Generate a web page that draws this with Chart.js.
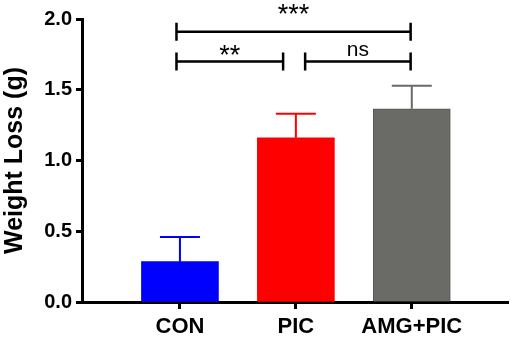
<!DOCTYPE html>
<html>
<head>
<meta charset="utf-8">
<script src="https://cdn.jsdelivr.net/npm/chart.js@4/dist/chart.umd.min.js"></script>
<style>
  html, body { margin: 0; padding: 0; background: #fff; }
  #wrap { width: 511px; height: 338px; }
</style>
</head>
<body>
<div id="wrap"><canvas id="graficoPeso"></canvas></div>
<script>
// dados
const categorias = ["CON", "PIC", "AMG+PIC"];
const medias = [0.285, 1.16, 1.365];
const erros = [0.175, 0.17, 0.163];
const yTicks = [0, 0.5, 1.0, 1.5, 2.0];

// comparações (posições em unidades da categoria, altura em g)
const sigInicio = [0.97, 0.97, 2.08];
const sigFim = [2.99, 1.89, 2.99];
const sigAltura = [1.91, 1.70, 1.70];
const sigTexto = ["***", "**", "ns"];

const cores = ["#0000ff", "#ff0000", "#6a6b66"];
const coresErro = ["#0000ff", "#ff0000", "#6a6b66"];

const errorBars = {
    id: "errorBars",
    afterDatasetsDraw(chart) {
        const ctx = chart.ctx;
        const y = chart.scales.y;
        const meta = chart.getDatasetMeta(0);
        meta.data.forEach((bar, i) => {
            const top = y.getPixelForValue(medias[i] + erros[i]);
            ctx.save();
            ctx.strokeStyle = coresErro[i];
            ctx.lineWidth = 2;
            ctx.beginPath();
            ctx.moveTo(bar.x, bar.y);
            ctx.lineTo(bar.x, top);
            ctx.moveTo(bar.x - 20, top);
            ctx.lineTo(bar.x + 20, top);
            ctx.stroke();
            ctx.restore();
        });
    }
};

const significancia = {
    id: "significancia",
    afterDraw(chart) {
        const ctx = chart.ctx;
        const x = chart.scales.x;
        const y = chart.scales.y;
        const folga = [18, 6, 5];
        ctx.save();
        ctx.strokeStyle = "#000";
        ctx.fillStyle = "#000";
        ctx.lineWidth = 2.5;
        sigTexto.forEach((txt, i) => {
            const x1 = x.getPixelForValue(sigInicio[i]);
            const x2 = x.getPixelForValue(sigFim[i]);
            const yy = y.getPixelForValue(sigAltura[i]);
            ctx.beginPath();
            ctx.moveTo(x1, yy);
            ctx.lineTo(x2, yy);
            ctx.moveTo(x1, yy - 9);
            ctx.lineTo(x1, yy + 9);
            ctx.moveTo(x2, yy - 9);
            ctx.lineTo(x2, yy + 9);
            ctx.stroke();
            ctx.font = txt === "ns" ? "21px 'Liberation Sans', Arial, sans-serif" : "27px 'Liberation Sans', Arial, sans-serif";
            ctx.textAlign = "center";
            ctx.textBaseline = "alphabetic";
            const m = ctx.measureText(txt);
            ctx.fillText(txt, (x1 + x2) / 2, yy - folga[i] - m.actualBoundingBoxDescent);
        });
        ctx.restore();
    }
};

const ctx = document.getElementById("graficoPeso").getContext("2d");
new Chart(ctx, {
    type: "bar",
    data: {
        datasets: [{
            data: medias.map((v, i) => ({ x: i + 1, y: v })),
            backgroundColor: cores,
            borderColor: ["#0000ff", "#ff0000", "#555752"],
            borderWidth: [0, 0, 1],
            borderSkipped: "bottom",
            barThickness: 77
        }]
    },
    options: {
        responsive: true,
        maintainAspectRatio: false,
        animation: false,
        layout: { padding: { top: 19, right: 3, left: 0, bottom: 0 } },
        plugins: {
            legend: { display: false },
            tooltip: { enabled: false }
        },
        scales: {
            x: {
                type: "linear",
                offset: false,
                min: 0.155,
                max: 3.83,
                afterBuildTicks: axis => {
                    axis.ticks = categorias.map((c, i) => ({ value: i + 1 }));
                },
                afterFit: scale => { scale.height = 36; },
                grid: {
                    offset: false,
                    drawOnChartArea: false,
                    drawTicks: true,
                    tickLength: 7,
                    tickColor: "#000",
                    tickWidth: 3
                },
                border: { color: "#000", width: 3 },
                ticks: {
                    autoSkip: false,
                    maxRotation: 0,
                    padding: 5,
                    color: "#000",
                    font: { family: "'Liberation Sans', Arial, sans-serif", size: 22, weight: "bold" },
                    callback: value => categorias[value - 1]
                }
            },
            y: {
                min: 0,
                max: 2,
                afterBuildTicks: axis => {
                    axis.ticks = yTicks.map(v => ({ value: v }));
                },
                afterFit: scale => { scale.width = 82; },
                grid: {
                    drawOnChartArea: false,
                    drawTicks: true,
                    tickLength: 6,
                    tickColor: "#000",
                    tickWidth: 3
                },
                border: { color: "#000", width: 3 },
                ticks: {
                    padding: 4,
                    color: "#000",
                    font: { family: "'Liberation Sans', Arial, sans-serif", size: 20, weight: "bold" },
                    callback: value => value.toFixed(1)
                },
                title: {
                    display: true,
                    text: "Weight Loss (g)",
                    color: "#000",
                    padding: 0,
                    font: { family: "'Liberation Sans', Arial, sans-serif", size: 25, weight: "bold" }
                }
            }
        }
    },
    plugins: [errorBars, significancia]
});
</script>
</body>
</html>
